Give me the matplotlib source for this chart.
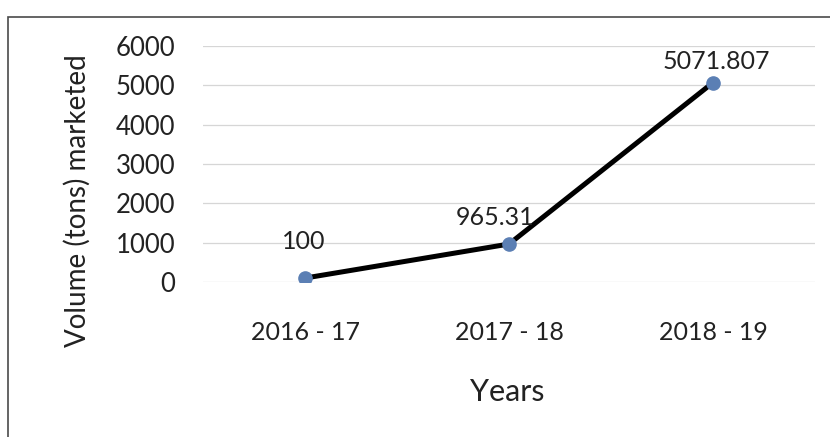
"""
Volume marketed per year, line chart with data labels.
"""

import matplotlib
matplotlib.use("Agg")
import matplotlib.pyplot as plt
from matplotlib.patches import Rectangle

years = ["2016 - 17", "2017 - 18", "2018 - 19"]
volume = [100, 965.31, 5071.807]
volume_labels = ["100", "965.31", "5071.807"]
y_ticks = [0, 1000, 2000, 3000, 4000, 5000, 6000]

plt.rcParams["font.family"] = ["Lato", "DejaVu Sans"]
text_color = "#222222"

fig = plt.figure(figsize=(8.3, 4.37), dpi=100)
ax = fig.add_axes([0.2446, 0.3547, 0.7374, 0.54])

# Outer chart frame (only top and left edges fall inside the scan)
fig.patches.append(Rectangle((8 / 830, -0.05), 1.0, 1 - 17 / 437 + 0.05,
                             transform=fig.transFigure, fill=False,
                             edgecolor="#4a4a4a", linewidth=1.2))

x = list(range(len(years)))
ax.plot(x, volume, color="black", linewidth=3.6, zorder=3)
ax.plot(x, volume, linestyle="none", marker="o", markersize=9.5,
        color="#5b7fb4", zorder=4)

# Data labels sit above each point, nudged like the original
label_offsets = [(-1, 26), (-10, 19), (2, 15)]
for xi, yi, lab, off in zip(x, volume, volume_labels, label_offsets):
    ax.annotate(lab, (xi, yi), xytext=off, textcoords="offset points",
                ha="center", va="center", fontsize=18, color=text_color)

ax.set_xlim(-0.5, 2.5)
ax.set_ylim(0, 6000)
ax.set_yticks(y_ticks)
ax.set_xticks(x)
ax.set_xticklabels(years)
ax.grid(axis="y", color="#d6d6d6", linewidth=0.9)
ax.set_axisbelow(True)
for side in ax.spines.values():
    side.set_visible(False)
ax.tick_params(axis="y", length=0, pad=20, labelsize=18.5, labelcolor=text_color)
ax.tick_params(axis="x", length=0, pad=28, labelsize=18, labelcolor=text_color)

fig.text(77 / 830, 1 - 201 / 437, "Volume (tons) marketed", rotation=90,
         ha="center", va="center", fontsize=20, color=text_color)
fig.text(507 / 830, 1 - 392 / 437, "Years", ha="center", va="center",
         fontsize=22, color=text_color)

fig.savefig("out.png", dpi=100)
